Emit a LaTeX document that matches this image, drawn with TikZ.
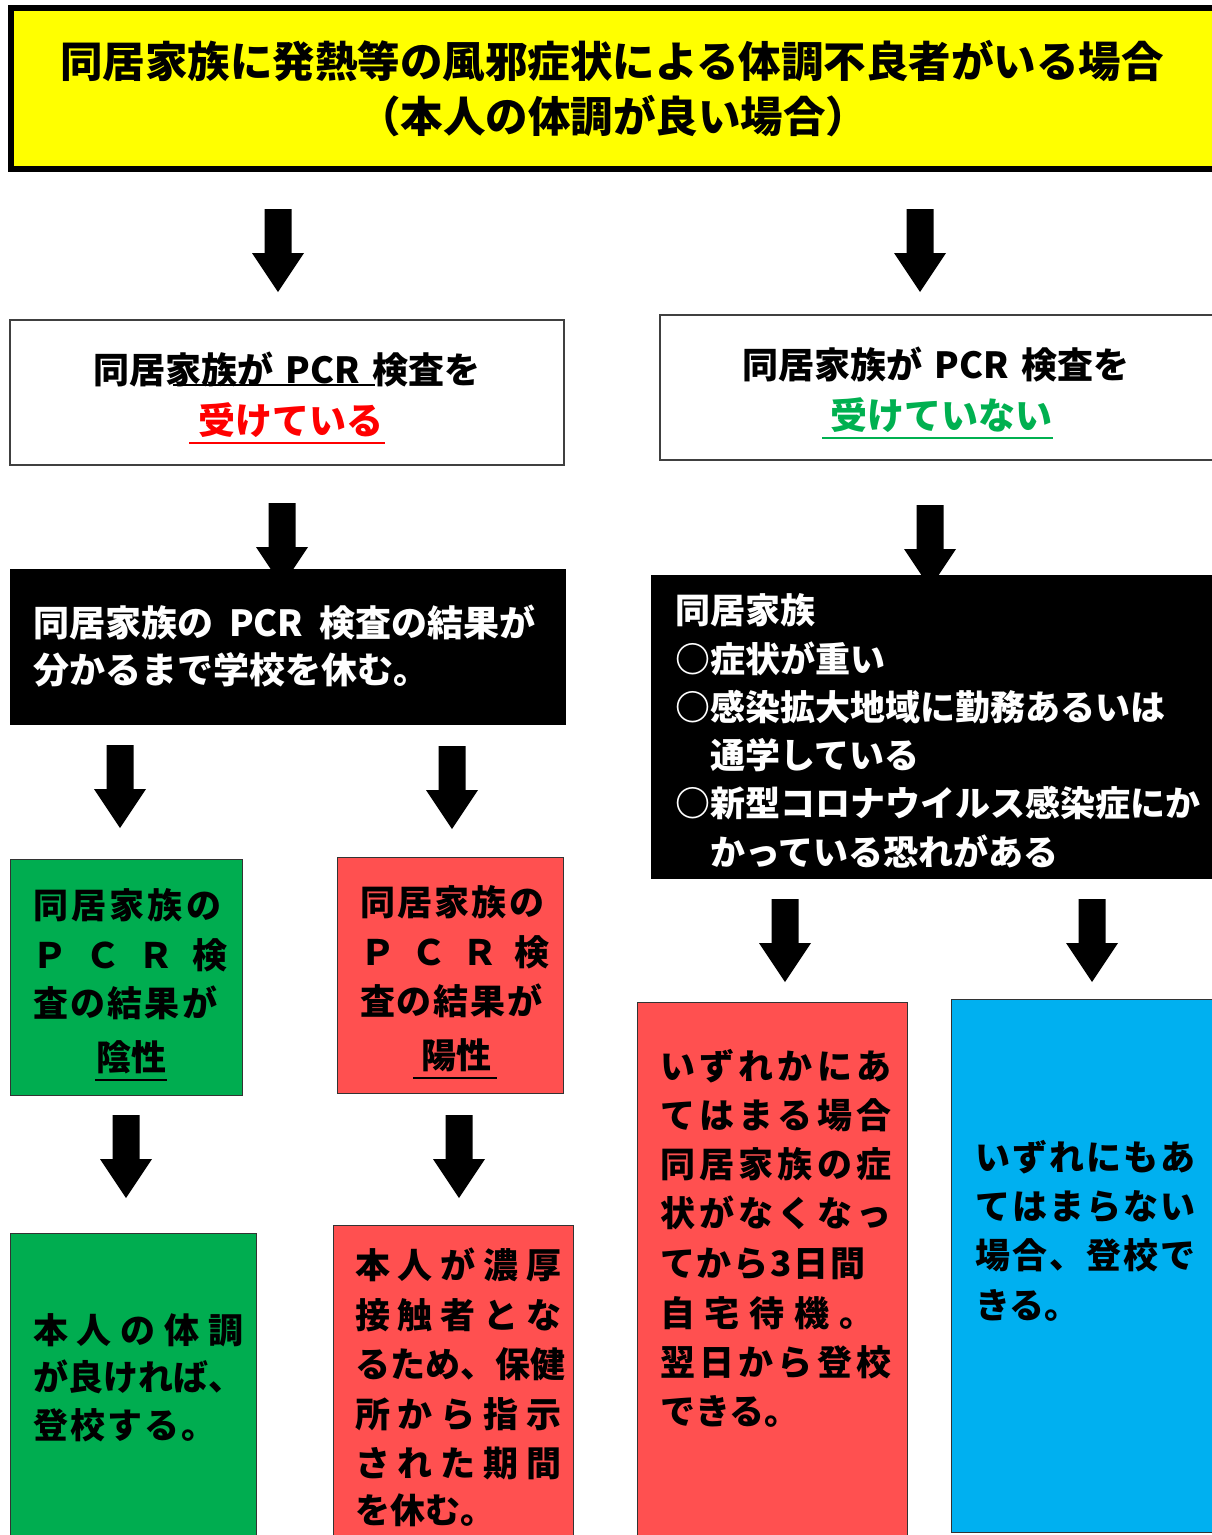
\documentclass[tikz,border=0pt]{standalone}
\usepackage{fontspec}
\setmainfont{Noto Sans CJK JP}
\newcommand\fs[1]{\fontsize{#1}{#1}\selectfont\bfseries}
\makeatletter
\newcommand\spr[2]{\makebox[#1][l]{\spr@a#2\relax}}
\def\spr@a#1#2{#1\ifx\relax#2\else\hfill\expandafter\spr@a\expandafter#2\fi}
\makeatother
\definecolor{ygold}{HTML}{FFFF00}
\definecolor{bxgreen}{HTML}{00AD50}
\definecolor{bxred}{HTML}{FF5050}
\definecolor{bxblue}{HTML}{00B0F0}
\definecolor{txgreen}{HTML}{00B050}
\definecolor{bordergray}{HTML}{404040}
\newcommand\blockarrow[2]{%
  \fill[black] (#1-13.5,#2) -- (#1+13.5,#2) -- (#1+13.5,#2+44) -- (#1+26,#2+44)
    -- (#1,#2+83) -- (#1-26,#2+44) -- (#1-13.5,#2+44) -- cycle;}
\tikzset{
  box/.style={anchor=north west, inner sep=0pt, outer sep=0pt},
  whitebox/.style={box, draw=bordergray, line width=1.3pt, fill=white},
  blackbox/.style={box, fill=black},
  colbox/.style={box, draw=black!80, line width=1pt},
  tl/.style={anchor=base west, inner sep=0pt},
  tc/.style={anchor=base, inner sep=0pt},
  body/.style={font=\fs{35}},
}
\begin{document}
\begin{tikzpicture}[x=1pt,y=-1pt]
\useasboundingbox (0,0) rectangle (1211,1535);
\fill[white] (0,0) rectangle (1211,1535);
% arrows
\blockarrow{278}{209}
\blockarrow{920}{209}
\blockarrow{282}{503}
\blockarrow{930}{505}
\blockarrow{120}{745}
\blockarrow{452}{746}
\blockarrow{126}{1115}
\blockarrow{459}{1115}
\blockarrow{785}{899}
\blockarrow{1092}{899}
% title
\node[box, draw=black, line width=6pt, fill=ygold, minimum width=1212pt, minimum height=161pt] (title) at (11,8) {};
\node[tc, font=\fs{42.5}] (title1) at (612,77) {同居家族に発熱等の風邪症状による体調不良者がいる場合};
\node[tc, font=\fs{42.5}] (title2) at (613,132) {（本人の体調が良い場合）};
% white boxes
\node[whitebox, minimum width=554pt, minimum height=145pt] (wl) at (10,320) {};
\node[tc, font=\fs{36}] (wl1) at (287,383) {同居家族が\hspace{12pt}PCR\hspace{12pt}検査を};
\draw[line width=1.6pt] (173,385) -- (375,385);
\node[tc, font=\fs{37}, text=red] (wl2) at (291,434) {受けている};
\draw[red, line width=2.5pt] (189,443) -- (385,443);
\node[whitebox, minimum width=560pt, minimum height=145pt] (wr) at (660,315) {};
\node[tc, font=\fs{36}] (wr1) at (936,378) {同居家族が\hspace{12pt}PCR\hspace{12pt}検査を};
\node[tc, font=\fs{37}, text=txgreen] (wr2) at (941,429) {受けていない};
\draw[txgreen, line width=2.5pt] (822,438) -- (1053,438);
% black boxes
\node[blackbox, minimum width=556pt, minimum height=156pt] (bl) at (10,569) {};
\node[tl, font=\fs{36}, text=white] (bl1) at (33,636) {同居家族の\hspace{16pt}PCR\hspace{16pt}検査の結果が};
\node[tl, font=\fs{36}, text=white] (bl2) at (33,683) {分かるまで学校を休む。};
\node[blackbox, minimum width=570pt, minimum height=304pt] (br) at (651,575) {};
\node[tl, body, text=white] (br1) at (675,623) {同居家族};
\node[tl, body, text=white] (br2) at (675,672) {○症状が重い};
\node[tl, body, text=white] (br3) at (675,720) {○感染拡大地域に勤務あるいは};
\node[tl, body, text=white] (br4) at (675,768) {　通学している};
\node[tl, body, text=white] (br5) at (675,816) {○新型コロナウイルス感染症にか};
\node[tl, body, text=white] (br6) at (675,865) {　かっている恐れがある};
% result boxes
\node[colbox, fill=bxgreen, minimum width=232pt, minimum height=236pt] (g1) at (10,859) {};
\node[tl, body] (g1a) at (33,918) {\spr{188pt}{同居家族の}};
\node[tl, body] (g1b) at (32,968) {\spr{195pt}{ＰＣＲ検}};
\node[tl, body] (g1c) at (33,1016) {\spr{184pt}{査の結果が}};
\node[tc, body] (g1d) at (131,1070) {陰性};
\draw[line width=2pt] (95,1080) -- (167,1080);
\node[colbox, fill=bxred, minimum width=226pt, minimum height=236pt] (r1) at (337,857) {};
\node[tl, body] (r1a) at (360,915) {\spr{184pt}{同居家族の}};
\node[tl, body] (r1b) at (360,965) {\spr{189pt}{ＰＣＲ検}};
\node[tl, body] (r1c) at (360,1014) {\spr{182pt}{査の結果が}};
\node[tc, body] (r1d) at (456,1068) {陽性};
\draw[line width=2pt] (413,1078) -- (497,1078);
% bottom boxes
\node[colbox, fill=bxgreen, minimum width=246pt, minimum height=320pt] (g2) at (10,1233) {};
\node[tl, body] (g2a) at (33,1343) {\spr{210pt}{本人の体調}};
\node[tl, body] (g2b) at (33,1390) {が良ければ、};
\node[tl, body] (g2c) at (33,1438) {\spr{183pt}{登校する。}};
\node[colbox, fill=bxred, minimum width=240pt, minimum height=330pt] (r2) at (333,1225) {};
\node[tl, body] (r2a) at (355,1278) {\spr{206pt}{本人が濃厚}};
\node[tl, body] (r2b) at (355,1328) {\spr{206pt}{接触者とな}};
\node[tl, body] (r2c) at (355,1377) {\spr{210pt}{るため、保健}};
\node[tl, body] (r2d) at (355,1427) {\spr{206pt}{所から指示}};
\node[tl, body] (r2e) at (355,1476) {\spr{206pt}{された期間}};
\node[tl, body] (r2f) at (355,1523) {を休む。};
\node[colbox, fill=bxred, minimum width=270pt, minimum height=560pt] (r3) at (637,1002) {};
\node[tl, body] (r3a) at (660,1079) {\spr{231pt}{いずれかにあ}};
\node[tl, body] (r3b) at (660,1128) {\spr{231pt}{てはまる場合}};
\node[tl, body] (r3c) at (660,1177) {\spr{231pt}{同居家族の症}};
\node[tl, body] (r3d) at (660,1226) {\spr{231pt}{状がなくなっ}};
\node[tl, body] (r3e) at (660,1276) {\spr{205pt}{てから3日間}};
\node[tl, body] (r3f) at (660,1326) {\spr{214pt}{自宅待機。}};
\node[tl, body] (r3g) at (660,1375) {\spr{231pt}{翌日から登校}};
\node[tl, body] (r3h) at (660,1424) {できる。};
\node[colbox, fill=bxblue, minimum width=270pt, minimum height=533pt] (bb) at (951,999) {};
\node[tl, body] (bba) at (975,1170) {\spr{220pt}{いずれにもあ}};
\node[tl, body] (bbb) at (975,1219) {\spr{220pt}{てはまらない}};
\node[tl, body] (bbc) at (975,1268) {\spr{220pt}{場合、登校で}};
\node[tl, body] (bbd) at (975,1318) {きる。};
\end{tikzpicture}
\end{document}
